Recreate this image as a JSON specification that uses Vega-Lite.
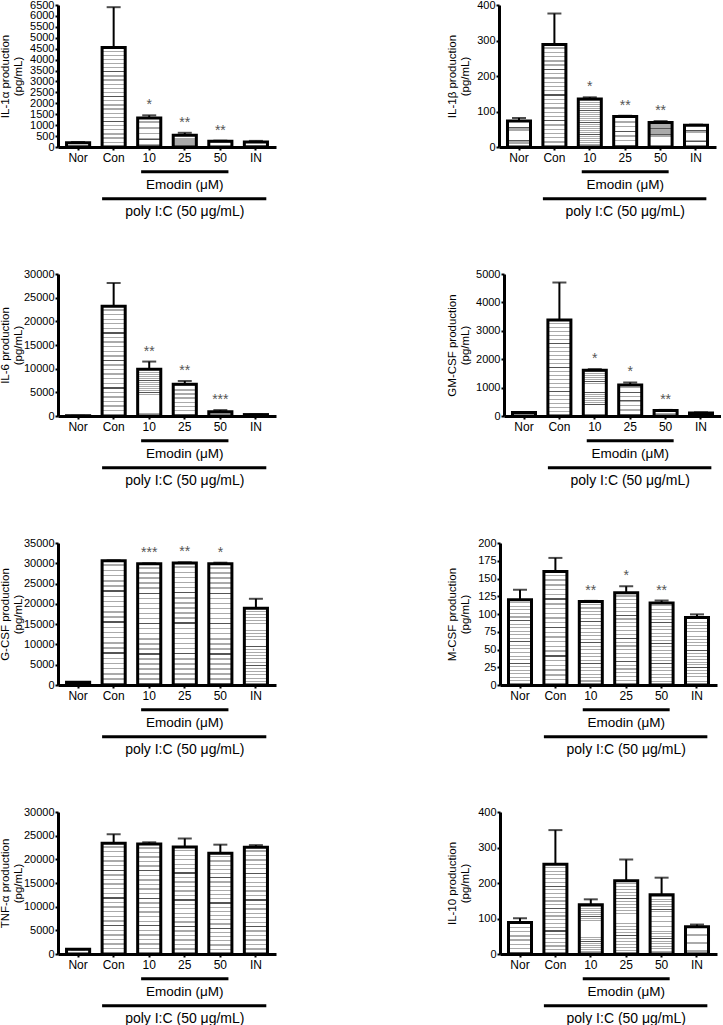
{
"$schema": "https://vega.github.io/schema/vega-lite/v6.json",
"padding": {"left": -2, "top": -1, "right": 0, "bottom": 0},
"background": "white",
"datasets": {
"bars": [
{"panel":"IL1a","group":"Nor","value":200,"err":230,"star":""},
{"panel":"IL1a","group":"Con","value":4550,"err":6400,"star":""},
{"panel":"IL1a","group":"10","value":1330,"err":1450,"star":"*"},
{"panel":"IL1a","group":"25","value":540,"err":650,"star":"**"},
{"panel":"IL1a","group":"50","value":260,"err":290,"star":"**"},
{"panel":"IL1a","group":"IN","value":230,"err":280,"star":""},
{"panel":"IL1b","group":"Nor","value":73,"err":82,"star":""},
{"panel":"IL1b","group":"Con","value":289,"err":376,"star":""},
{"panel":"IL1b","group":"10","value":135,"err":140,"star":"*"},
{"panel":"IL1b","group":"25","value":86,"err":88,"star":"**"},
{"panel":"IL1b","group":"50","value":69,"err":73,"star":"**"},
{"panel":"IL1b","group":"IN","value":61,"err":63,"star":""},
{"panel":"IL6","group":"Nor","value":40,"err":40,"star":""},
{"panel":"IL6","group":"Con","value":23200,"err":28100,"star":""},
{"panel":"IL6","group":"10","value":9900,"err":11500,"star":"**"},
{"panel":"IL6","group":"25","value":6700,"err":7400,"star":"**"},
{"panel":"IL6","group":"50","value":900,"err":1250,"star":"***"},
{"panel":"IL6","group":"IN","value":300,"err":300,"star":""},
{"panel":"GM","group":"Nor","value":120,"err":140,"star":""},
{"panel":"GM","group":"Con","value":3380,"err":4700,"star":""},
{"panel":"GM","group":"10","value":1615,"err":1650,"star":"*"},
{"panel":"GM","group":"25","value":1090,"err":1180,"star":"*"},
{"panel":"GM","group":"50","value":190,"err":215,"star":"**"},
{"panel":"GM","group":"IN","value":108,"err":130,"star":""},
{"panel":"G","group":"Nor","value":650,"err":700,"star":""},
{"panel":"G","group":"Con","value":30600,"err":30700,"star":""},
{"panel":"G","group":"10","value":29900,"err":29980,"star":"***"},
{"panel":"G","group":"25","value":30100,"err":30230,"star":"**"},
{"panel":"G","group":"50","value":29900,"err":30150,"star":"*"},
{"panel":"G","group":"IN","value":18900,"err":21250,"star":""},
{"panel":"M","group":"Nor","value":120,"err":134,"star":""},
{"panel":"M","group":"Con","value":160,"err":179,"star":""},
{"panel":"M","group":"10","value":117.5,"err":118.5,"star":"**"},
{"panel":"M","group":"25","value":130,"err":139,"star":"*"},
{"panel":"M","group":"50","value":115.5,"err":119,"star":"**"},
{"panel":"M","group":"IN","value":95,"err":99.5,"star":""},
{"panel":"TNF","group":"Nor","value":1000,"err":1000,"star":""},
{"panel":"TNF","group":"Con","value":23400,"err":25300,"star":""},
{"panel":"TNF","group":"10","value":23250,"err":23600,"star":""},
{"panel":"TNF","group":"25","value":22600,"err":24400,"star":""},
{"panel":"TNF","group":"50","value":21300,"err":23100,"star":""},
{"panel":"TNF","group":"IN","value":22550,"err":23000,"star":""},
{"panel":"IL10","group":"Nor","value":89,"err":101,"star":""},
{"panel":"IL10","group":"Con","value":253,"err":349,"star":""},
{"panel":"IL10","group":"10","value":139,"err":154,"star":""},
{"panel":"IL10","group":"25","value":206,"err":266,"star":""},
{"panel":"IL10","group":"50","value":167,"err":215,"star":""},
{"panel":"IL10","group":"IN","value":77,"err":83,"star":""}
],
"anno": [
{"level":"el","from":"10","to":"50","label":""},
{"level":"et","from":"25","to":"25","label":"Emodin (μM)"},
{"level":"pl","from":"Con","to":"IN","label":""},
{"level":"pt","from":"25","to":"25","label":"poly I:C (50 μg/mL)"}
]
},
"spacing": 48,
"vconcat": [
{"spacing": 169, "hconcat": [
{"spacing": 17, "bounds": "flush", "vconcat": [
{"width": 218, "height": 142, "data": {"name": "bars"}, "transform": [{"filter": "datum.panel === 'IL1a'"}],
 "encoding": {"x": {"field": "group", "type": "nominal", "scale": {"domain": ["Nor","Con","10","25","50","IN"]}, "title": null}},
 "layer": [
  {"mark": "bar", "encoding": {"y": {"field": "value", "type": "quantitative", "scale": {"domain": [0, 6500], "nice": false}, "axis": {"values": [0,500,1000,1500,2000,2500,3000,3500,4000,4500,5000,5500,6000,6500], "format": "d", "labelOverlap": false, "titleX": -48}, "title": ["IL-1α production", "(pg/mL)"]}}},
  {"mark": {"type": "rule", "strokeWidth": 2}, "encoding": {"y": {"field": "value", "type": "quantitative", "axis": {"values": [0,500,1000,1500,2000,2500,3000,3500,4000,4500,5000,5500,6000,6500], "format": "d", "labelOverlap": false, "titleX": -48}}, "y2": {"field": "err"}}},
  {"mark": {"type": "tick", "size": 14}, "encoding": {"y": {"field": "err", "type": "quantitative", "axis": {"values": [0,500,1000,1500,2000,2500,3000,3500,4000,4500,5000,5500,6000,6500], "format": "d", "labelOverlap": false, "titleX": -48}}}},
  {"transform": [{"filter": "datum.star !== ''"}], "mark": {"type": "text", "dy": -6, "baseline": "alphabetic", "fontSize": 14, "color": "#555"}, "encoding": {"y": {"field": "err", "type": "quantitative", "axis": {"values": [0,500,1000,1500,2000,2500,3000,3500,4000,4500,5000,5500,6000,6500], "format": "d", "labelOverlap": false, "titleX": -48}}, "text": {"field": "star"}}}
 ]},
{"width": 218, "height": 56, "data": {"name": "anno"},
 "encoding": {"y": {"field": "level", "type": "ordinal", "scale": {"domain": ["el","et","pl","pt"]}, "axis": null}},
 "layer": [
  {"transform": [{"filter": "datum.level === 'el'"}], "mark": {"type": "rule", "strokeWidth": 3}, "encoding": {"x": {"field": "from", "type": "nominal", "scale": {"domain": ["Nor","Con","10","25","50","IN"]}, "bandPosition": 0.15, "axis": null}, "x2": {"field": "to", "bandPosition": 0.85}}},
  {"transform": [{"filter": "datum.level === 'pl'"}], "mark": {"type": "rule", "strokeWidth": 3}, "encoding": {"x": {"field": "from", "type": "nominal", "scale": {"domain": ["Nor","Con","10","25","50","IN"]}, "bandPosition": 0, "axis": null}, "x2": {"field": "to", "bandPosition": 0.95}}},
  {"transform": [{"filter": "datum.level === 'et'"}], "mark": {"type": "text", "fontSize": 13.5}, "encoding": {"x": {"field": "from", "type": "nominal", "scale": {"domain": ["Nor","Con","10","25","50","IN"]}, "axis": null}, "text": {"field": "label"}}},
  {"transform": [{"filter": "datum.level === 'pt'"}], "mark": {"type": "text", "fontSize": 14}, "encoding": {"x": {"field": "from", "type": "nominal", "scale": {"domain": ["Nor","Con","10","25","50","IN"]}, "axis": null}, "text": {"field": "label"}}}
 ]}
]},
{"spacing": 17, "bounds": "flush", "vconcat": [
{"width": 217, "height": 142, "data": {"name": "bars"}, "transform": [{"filter": "datum.panel === 'IL1b'"}],
 "encoding": {"x": {"field": "group", "type": "nominal", "scale": {"domain": ["Nor","Con","10","25","50","IN"]}, "title": null}},
 "layer": [
  {"mark": "bar", "encoding": {"y": {"field": "value", "type": "quantitative", "scale": {"domain": [0, 400], "nice": false}, "axis": {"values": [0,100,200,300,400], "format": "d", "labelOverlap": false, "titleX": -42}, "title": ["IL-1β production", "(pg/mL)"]}}},
  {"mark": {"type": "rule", "strokeWidth": 2}, "encoding": {"y": {"field": "value", "type": "quantitative", "axis": {"values": [0,100,200,300,400], "format": "d", "labelOverlap": false, "titleX": -42}}, "y2": {"field": "err"}}},
  {"mark": {"type": "tick", "size": 14}, "encoding": {"y": {"field": "err", "type": "quantitative", "axis": {"values": [0,100,200,300,400], "format": "d", "labelOverlap": false, "titleX": -42}}}},
  {"transform": [{"filter": "datum.star !== ''"}], "mark": {"type": "text", "dy": -6, "baseline": "alphabetic", "fontSize": 14, "color": "#555"}, "encoding": {"y": {"field": "err", "type": "quantitative", "axis": {"values": [0,100,200,300,400], "format": "d", "labelOverlap": false, "titleX": -42}}, "text": {"field": "star"}}}
 ]},
{"width": 217, "height": 56, "data": {"name": "anno"},
 "encoding": {"y": {"field": "level", "type": "ordinal", "scale": {"domain": ["el","et","pl","pt"]}, "axis": null}},
 "layer": [
  {"transform": [{"filter": "datum.level === 'el'"}], "mark": {"type": "rule", "strokeWidth": 3}, "encoding": {"x": {"field": "from", "type": "nominal", "scale": {"domain": ["Nor","Con","10","25","50","IN"]}, "bandPosition": 0.15, "axis": null}, "x2": {"field": "to", "bandPosition": 0.85}}},
  {"transform": [{"filter": "datum.level === 'pl'"}], "mark": {"type": "rule", "strokeWidth": 3}, "encoding": {"x": {"field": "from", "type": "nominal", "scale": {"domain": ["Nor","Con","10","25","50","IN"]}, "bandPosition": 0, "axis": null}, "x2": {"field": "to", "bandPosition": 0.95}}},
  {"transform": [{"filter": "datum.level === 'et'"}], "mark": {"type": "text", "fontSize": 13.5}, "encoding": {"x": {"field": "from", "type": "nominal", "scale": {"domain": ["Nor","Con","10","25","50","IN"]}, "axis": null}, "text": {"field": "label"}}},
  {"transform": [{"filter": "datum.level === 'pt'"}], "mark": {"type": "text", "fontSize": 14}, "encoding": {"x": {"field": "from", "type": "nominal", "scale": {"domain": ["Nor","Con","10","25","50","IN"]}, "axis": null}, "text": {"field": "label"}}}
 ]}
]}
]},
{"spacing": 169, "hconcat": [
{"spacing": 17, "bounds": "flush", "vconcat": [
{"width": 218, "height": 142, "data": {"name": "bars"}, "transform": [{"filter": "datum.panel === 'IL6'"}],
 "encoding": {"x": {"field": "group", "type": "nominal", "scale": {"domain": ["Nor","Con","10","25","50","IN"]}, "title": null}},
 "layer": [
  {"mark": "bar", "encoding": {"y": {"field": "value", "type": "quantitative", "scale": {"domain": [0, 30000], "nice": false}, "axis": {"values": [0,5000,10000,15000,20000,25000,30000], "format": "d", "labelOverlap": false, "titleX": -48}, "title": ["IL-6 production", "(pg/mL)"]}}},
  {"mark": {"type": "rule", "strokeWidth": 2}, "encoding": {"y": {"field": "value", "type": "quantitative", "axis": {"values": [0,5000,10000,15000,20000,25000,30000], "format": "d", "labelOverlap": false, "titleX": -48}}, "y2": {"field": "err"}}},
  {"mark": {"type": "tick", "size": 14}, "encoding": {"y": {"field": "err", "type": "quantitative", "axis": {"values": [0,5000,10000,15000,20000,25000,30000], "format": "d", "labelOverlap": false, "titleX": -48}}}},
  {"transform": [{"filter": "datum.star !== ''"}], "mark": {"type": "text", "dy": -6, "baseline": "alphabetic", "fontSize": 14, "color": "#555"}, "encoding": {"y": {"field": "err", "type": "quantitative", "axis": {"values": [0,5000,10000,15000,20000,25000,30000], "format": "d", "labelOverlap": false, "titleX": -48}}, "text": {"field": "star"}}}
 ]},
{"width": 218, "height": 56, "data": {"name": "anno"},
 "encoding": {"y": {"field": "level", "type": "ordinal", "scale": {"domain": ["el","et","pl","pt"]}, "axis": null}},
 "layer": [
  {"transform": [{"filter": "datum.level === 'el'"}], "mark": {"type": "rule", "strokeWidth": 3}, "encoding": {"x": {"field": "from", "type": "nominal", "scale": {"domain": ["Nor","Con","10","25","50","IN"]}, "bandPosition": 0.15, "axis": null}, "x2": {"field": "to", "bandPosition": 0.85}}},
  {"transform": [{"filter": "datum.level === 'pl'"}], "mark": {"type": "rule", "strokeWidth": 3}, "encoding": {"x": {"field": "from", "type": "nominal", "scale": {"domain": ["Nor","Con","10","25","50","IN"]}, "bandPosition": 0, "axis": null}, "x2": {"field": "to", "bandPosition": 0.95}}},
  {"transform": [{"filter": "datum.level === 'et'"}], "mark": {"type": "text", "fontSize": 13.5}, "encoding": {"x": {"field": "from", "type": "nominal", "scale": {"domain": ["Nor","Con","10","25","50","IN"]}, "axis": null}, "text": {"field": "label"}}},
  {"transform": [{"filter": "datum.level === 'pt'"}], "mark": {"type": "text", "fontSize": 14}, "encoding": {"x": {"field": "from", "type": "nominal", "scale": {"domain": ["Nor","Con","10","25","50","IN"]}, "axis": null}, "text": {"field": "label"}}}
 ]}
]},
{"spacing": 17, "bounds": "flush", "vconcat": [
{"width": 217, "height": 142, "data": {"name": "bars"}, "transform": [{"filter": "datum.panel === 'GM'"}],
 "encoding": {"x": {"field": "group", "type": "nominal", "scale": {"domain": ["Nor","Con","10","25","50","IN"]}, "title": null}},
 "layer": [
  {"mark": "bar", "encoding": {"y": {"field": "value", "type": "quantitative", "scale": {"domain": [0, 5000], "nice": false}, "axis": {"values": [0,1000,2000,3000,4000,5000], "format": "d", "labelOverlap": false, "titleX": -47}, "title": ["GM-CSF production", "(pg/mL)"]}}},
  {"mark": {"type": "rule", "strokeWidth": 2}, "encoding": {"y": {"field": "value", "type": "quantitative", "axis": {"values": [0,1000,2000,3000,4000,5000], "format": "d", "labelOverlap": false, "titleX": -47}}, "y2": {"field": "err"}}},
  {"mark": {"type": "tick", "size": 14}, "encoding": {"y": {"field": "err", "type": "quantitative", "axis": {"values": [0,1000,2000,3000,4000,5000], "format": "d", "labelOverlap": false, "titleX": -47}}}},
  {"transform": [{"filter": "datum.star !== ''"}], "mark": {"type": "text", "dy": -6, "baseline": "alphabetic", "fontSize": 14, "color": "#555"}, "encoding": {"y": {"field": "err", "type": "quantitative", "axis": {"values": [0,1000,2000,3000,4000,5000], "format": "d", "labelOverlap": false, "titleX": -47}}, "text": {"field": "star"}}}
 ]},
{"width": 217, "height": 56, "data": {"name": "anno"},
 "encoding": {"y": {"field": "level", "type": "ordinal", "scale": {"domain": ["el","et","pl","pt"]}, "axis": null}},
 "layer": [
  {"transform": [{"filter": "datum.level === 'el'"}], "mark": {"type": "rule", "strokeWidth": 3}, "encoding": {"x": {"field": "from", "type": "nominal", "scale": {"domain": ["Nor","Con","10","25","50","IN"]}, "bandPosition": 0.15, "axis": null}, "x2": {"field": "to", "bandPosition": 0.85}}},
  {"transform": [{"filter": "datum.level === 'pl'"}], "mark": {"type": "rule", "strokeWidth": 3}, "encoding": {"x": {"field": "from", "type": "nominal", "scale": {"domain": ["Nor","Con","10","25","50","IN"]}, "bandPosition": 0, "axis": null}, "x2": {"field": "to", "bandPosition": 0.95}}},
  {"transform": [{"filter": "datum.level === 'et'"}], "mark": {"type": "text", "fontSize": 13.5}, "encoding": {"x": {"field": "from", "type": "nominal", "scale": {"domain": ["Nor","Con","10","25","50","IN"]}, "axis": null}, "text": {"field": "label"}}},
  {"transform": [{"filter": "datum.level === 'pt'"}], "mark": {"type": "text", "fontSize": 14}, "encoding": {"x": {"field": "from", "type": "nominal", "scale": {"domain": ["Nor","Con","10","25","50","IN"]}, "axis": null}, "text": {"field": "label"}}}
 ]}
]}
]},
{"spacing": 169, "hconcat": [
{"spacing": 17, "bounds": "flush", "vconcat": [
{"width": 218, "height": 142, "data": {"name": "bars"}, "transform": [{"filter": "datum.panel === 'G'"}],
 "encoding": {"x": {"field": "group", "type": "nominal", "scale": {"domain": ["Nor","Con","10","25","50","IN"]}, "title": null}},
 "layer": [
  {"mark": "bar", "encoding": {"y": {"field": "value", "type": "quantitative", "scale": {"domain": [0, 35000], "nice": false}, "axis": {"values": [0,5000,10000,15000,20000,25000,30000,35000], "format": "d", "labelOverlap": false, "titleX": -48}, "title": ["G-CSF production", "(pg/mL)"]}}},
  {"mark": {"type": "rule", "strokeWidth": 2}, "encoding": {"y": {"field": "value", "type": "quantitative", "axis": {"values": [0,5000,10000,15000,20000,25000,30000,35000], "format": "d", "labelOverlap": false, "titleX": -48}}, "y2": {"field": "err"}}},
  {"mark": {"type": "tick", "size": 14}, "encoding": {"y": {"field": "err", "type": "quantitative", "axis": {"values": [0,5000,10000,15000,20000,25000,30000,35000], "format": "d", "labelOverlap": false, "titleX": -48}}}},
  {"transform": [{"filter": "datum.star !== ''"}], "mark": {"type": "text", "dy": -6, "baseline": "alphabetic", "fontSize": 14, "color": "#555"}, "encoding": {"y": {"field": "err", "type": "quantitative", "axis": {"values": [0,5000,10000,15000,20000,25000,30000,35000], "format": "d", "labelOverlap": false, "titleX": -48}}, "text": {"field": "star"}}}
 ]},
{"width": 218, "height": 56, "data": {"name": "anno"},
 "encoding": {"y": {"field": "level", "type": "ordinal", "scale": {"domain": ["el","et","pl","pt"]}, "axis": null}},
 "layer": [
  {"transform": [{"filter": "datum.level === 'el'"}], "mark": {"type": "rule", "strokeWidth": 3}, "encoding": {"x": {"field": "from", "type": "nominal", "scale": {"domain": ["Nor","Con","10","25","50","IN"]}, "bandPosition": 0.15, "axis": null}, "x2": {"field": "to", "bandPosition": 0.85}}},
  {"transform": [{"filter": "datum.level === 'pl'"}], "mark": {"type": "rule", "strokeWidth": 3}, "encoding": {"x": {"field": "from", "type": "nominal", "scale": {"domain": ["Nor","Con","10","25","50","IN"]}, "bandPosition": 0, "axis": null}, "x2": {"field": "to", "bandPosition": 0.95}}},
  {"transform": [{"filter": "datum.level === 'et'"}], "mark": {"type": "text", "fontSize": 13.5}, "encoding": {"x": {"field": "from", "type": "nominal", "scale": {"domain": ["Nor","Con","10","25","50","IN"]}, "axis": null}, "text": {"field": "label"}}},
  {"transform": [{"filter": "datum.level === 'pt'"}], "mark": {"type": "text", "fontSize": 14}, "encoding": {"x": {"field": "from", "type": "nominal", "scale": {"domain": ["Nor","Con","10","25","50","IN"]}, "axis": null}, "text": {"field": "label"}}}
 ]}
]},
{"spacing": 17, "bounds": "flush", "vconcat": [
{"width": 217, "height": 142, "data": {"name": "bars"}, "transform": [{"filter": "datum.panel === 'M'"}],
 "encoding": {"x": {"field": "group", "type": "nominal", "scale": {"domain": ["Nor","Con","10","25","50","IN"]}, "title": null}},
 "layer": [
  {"mark": "bar", "encoding": {"y": {"field": "value", "type": "quantitative", "scale": {"domain": [0, 200], "nice": false}, "axis": {"values": [0,25,50,75,100,125,150,175,200], "format": "d", "labelOverlap": false, "titleX": -43}, "title": ["M-CSF production", "(pg/mL)"]}}},
  {"mark": {"type": "rule", "strokeWidth": 2}, "encoding": {"y": {"field": "value", "type": "quantitative", "axis": {"values": [0,25,50,75,100,125,150,175,200], "format": "d", "labelOverlap": false, "titleX": -43}}, "y2": {"field": "err"}}},
  {"mark": {"type": "tick", "size": 14}, "encoding": {"y": {"field": "err", "type": "quantitative", "axis": {"values": [0,25,50,75,100,125,150,175,200], "format": "d", "labelOverlap": false, "titleX": -43}}}},
  {"transform": [{"filter": "datum.star !== ''"}], "mark": {"type": "text", "dy": -6, "baseline": "alphabetic", "fontSize": 14, "color": "#555"}, "encoding": {"y": {"field": "err", "type": "quantitative", "axis": {"values": [0,25,50,75,100,125,150,175,200], "format": "d", "labelOverlap": false, "titleX": -43}}, "text": {"field": "star"}}}
 ]},
{"width": 217, "height": 56, "data": {"name": "anno"},
 "encoding": {"y": {"field": "level", "type": "ordinal", "scale": {"domain": ["el","et","pl","pt"]}, "axis": null}},
 "layer": [
  {"transform": [{"filter": "datum.level === 'el'"}], "mark": {"type": "rule", "strokeWidth": 3}, "encoding": {"x": {"field": "from", "type": "nominal", "scale": {"domain": ["Nor","Con","10","25","50","IN"]}, "bandPosition": 0.15, "axis": null}, "x2": {"field": "to", "bandPosition": 0.85}}},
  {"transform": [{"filter": "datum.level === 'pl'"}], "mark": {"type": "rule", "strokeWidth": 3}, "encoding": {"x": {"field": "from", "type": "nominal", "scale": {"domain": ["Nor","Con","10","25","50","IN"]}, "bandPosition": 0, "axis": null}, "x2": {"field": "to", "bandPosition": 0.95}}},
  {"transform": [{"filter": "datum.level === 'et'"}], "mark": {"type": "text", "fontSize": 13.5}, "encoding": {"x": {"field": "from", "type": "nominal", "scale": {"domain": ["Nor","Con","10","25","50","IN"]}, "axis": null}, "text": {"field": "label"}}},
  {"transform": [{"filter": "datum.level === 'pt'"}], "mark": {"type": "text", "fontSize": 14}, "encoding": {"x": {"field": "from", "type": "nominal", "scale": {"domain": ["Nor","Con","10","25","50","IN"]}, "axis": null}, "text": {"field": "label"}}}
 ]}
]}
]},
{"spacing": 169, "hconcat": [
{"spacing": 17, "bounds": "flush", "vconcat": [
{"width": 218, "height": 142, "data": {"name": "bars"}, "transform": [{"filter": "datum.panel === 'TNF'"}],
 "encoding": {"x": {"field": "group", "type": "nominal", "scale": {"domain": ["Nor","Con","10","25","50","IN"]}, "title": null}},
 "layer": [
  {"mark": "bar", "encoding": {"y": {"field": "value", "type": "quantitative", "scale": {"domain": [0, 30000], "nice": false}, "axis": {"values": [0,5000,10000,15000,20000,25000,30000], "format": "d", "labelOverlap": false, "titleX": -48}, "title": ["TNF-α production", "(pg/mL)"]}}},
  {"mark": {"type": "rule", "strokeWidth": 2}, "encoding": {"y": {"field": "value", "type": "quantitative", "axis": {"values": [0,5000,10000,15000,20000,25000,30000], "format": "d", "labelOverlap": false, "titleX": -48}}, "y2": {"field": "err"}}},
  {"mark": {"type": "tick", "size": 14}, "encoding": {"y": {"field": "err", "type": "quantitative", "axis": {"values": [0,5000,10000,15000,20000,25000,30000], "format": "d", "labelOverlap": false, "titleX": -48}}}}
 ]},
{"width": 218, "height": 56, "data": {"name": "anno"},
 "encoding": {"y": {"field": "level", "type": "ordinal", "scale": {"domain": ["el","et","pl","pt"]}, "axis": null}},
 "layer": [
  {"transform": [{"filter": "datum.level === 'el'"}], "mark": {"type": "rule", "strokeWidth": 3}, "encoding": {"x": {"field": "from", "type": "nominal", "scale": {"domain": ["Nor","Con","10","25","50","IN"]}, "bandPosition": 0.15, "axis": null}, "x2": {"field": "to", "bandPosition": 0.85}}},
  {"transform": [{"filter": "datum.level === 'pl'"}], "mark": {"type": "rule", "strokeWidth": 3}, "encoding": {"x": {"field": "from", "type": "nominal", "scale": {"domain": ["Nor","Con","10","25","50","IN"]}, "bandPosition": 0, "axis": null}, "x2": {"field": "to", "bandPosition": 0.95}}},
  {"transform": [{"filter": "datum.level === 'et'"}], "mark": {"type": "text", "fontSize": 13.5}, "encoding": {"x": {"field": "from", "type": "nominal", "scale": {"domain": ["Nor","Con","10","25","50","IN"]}, "axis": null}, "text": {"field": "label"}}},
  {"transform": [{"filter": "datum.level === 'pt'"}], "mark": {"type": "text", "fontSize": 14}, "encoding": {"x": {"field": "from", "type": "nominal", "scale": {"domain": ["Nor","Con","10","25","50","IN"]}, "axis": null}, "text": {"field": "label"}}}
 ]}
]},
{"spacing": 17, "bounds": "flush", "vconcat": [
{"width": 217, "height": 142, "data": {"name": "bars"}, "transform": [{"filter": "datum.panel === 'IL10'"}],
 "encoding": {"x": {"field": "group", "type": "nominal", "scale": {"domain": ["Nor","Con","10","25","50","IN"]}, "title": null}},
 "layer": [
  {"mark": "bar", "encoding": {"y": {"field": "value", "type": "quantitative", "scale": {"domain": [0, 400], "nice": false}, "axis": {"values": [0,100,200,300,400], "format": "d", "labelOverlap": false, "titleX": -43}, "title": ["IL-10 production", "(pg/mL)"]}}},
  {"mark": {"type": "rule", "strokeWidth": 2}, "encoding": {"y": {"field": "value", "type": "quantitative", "axis": {"values": [0,100,200,300,400], "format": "d", "labelOverlap": false, "titleX": -43}}, "y2": {"field": "err"}}},
  {"mark": {"type": "tick", "size": 14}, "encoding": {"y": {"field": "err", "type": "quantitative", "axis": {"values": [0,100,200,300,400], "format": "d", "labelOverlap": false, "titleX": -43}}}}
 ]},
{"width": 217, "height": 56, "data": {"name": "anno"},
 "encoding": {"y": {"field": "level", "type": "ordinal", "scale": {"domain": ["el","et","pl","pt"]}, "axis": null}},
 "layer": [
  {"transform": [{"filter": "datum.level === 'el'"}], "mark": {"type": "rule", "strokeWidth": 3}, "encoding": {"x": {"field": "from", "type": "nominal", "scale": {"domain": ["Nor","Con","10","25","50","IN"]}, "bandPosition": 0.15, "axis": null}, "x2": {"field": "to", "bandPosition": 0.85}}},
  {"transform": [{"filter": "datum.level === 'pl'"}], "mark": {"type": "rule", "strokeWidth": 3}, "encoding": {"x": {"field": "from", "type": "nominal", "scale": {"domain": ["Nor","Con","10","25","50","IN"]}, "bandPosition": 0, "axis": null}, "x2": {"field": "to", "bandPosition": 0.95}}},
  {"transform": [{"filter": "datum.level === 'et'"}], "mark": {"type": "text", "fontSize": 13.5}, "encoding": {"x": {"field": "from", "type": "nominal", "scale": {"domain": ["Nor","Con","10","25","50","IN"]}, "axis": null}, "text": {"field": "label"}}},
  {"transform": [{"filter": "datum.level === 'pt'"}], "mark": {"type": "text", "fontSize": 14}, "encoding": {"x": {"field": "from", "type": "nominal", "scale": {"domain": ["Nor","Con","10","25","50","IN"]}, "axis": null}, "text": {"field": "label"}}}
 ]}
]}
]}
],
"config": {
 "view": {"stroke": null},
 "font": "Liberation Sans",
 "scale": {"bandPaddingInner": 0.35, "bandPaddingOuter": 0.24},
 "bar": {"stroke": "black", "strokeWidth": 3, "fill": {"gradient": "linear", "x1": 0, "y1": 0, "x2": 0, "y2": 1, "stops": [
  {"offset":0,"color":"#fff"},
  {"offset":0.0292,"color":"#fff"},{"offset":0.0292,"color":"#aaa"},{"offset":0.0417,"color":"#aaa"},{"offset":0.0417,"color":"#fff"},
  {"offset":0.0708,"color":"#fff"},{"offset":0.0708,"color":"#aaa"},{"offset":0.0833,"color":"#aaa"},{"offset":0.0833,"color":"#fff"},
  {"offset":0.1125,"color":"#fff"},{"offset":0.1125,"color":"#aaa"},{"offset":0.125,"color":"#aaa"},{"offset":0.125,"color":"#fff"},
  {"offset":0.1542,"color":"#fff"},{"offset":0.1542,"color":"#aaa"},{"offset":0.1667,"color":"#aaa"},{"offset":0.1667,"color":"#fff"},
  {"offset":0.1958,"color":"#fff"},{"offset":0.1958,"color":"#aaa"},{"offset":0.2083,"color":"#aaa"},{"offset":0.2083,"color":"#fff"},
  {"offset":0.2375,"color":"#fff"},{"offset":0.2375,"color":"#555"},{"offset":0.25,"color":"#555"},{"offset":0.25,"color":"#fff"},
  {"offset":0.2792,"color":"#fff"},{"offset":0.2792,"color":"#aaa"},{"offset":0.2917,"color":"#aaa"},{"offset":0.2917,"color":"#fff"},
  {"offset":0.3208,"color":"#fff"},{"offset":0.3208,"color":"#aaa"},{"offset":0.3333,"color":"#aaa"},{"offset":0.3333,"color":"#fff"},
  {"offset":0.3625,"color":"#fff"},{"offset":0.3625,"color":"#aaa"},{"offset":0.375,"color":"#aaa"},{"offset":0.375,"color":"#fff"},
  {"offset":0.4042,"color":"#fff"},{"offset":0.4042,"color":"#aaa"},{"offset":0.4167,"color":"#aaa"},{"offset":0.4167,"color":"#fff"},
  {"offset":0.4458,"color":"#fff"},{"offset":0.4458,"color":"#aaa"},{"offset":0.4583,"color":"#aaa"},{"offset":0.4583,"color":"#fff"},
  {"offset":0.4875,"color":"#fff"},{"offset":0.4875,"color":"#555"},{"offset":0.5,"color":"#555"},{"offset":0.5,"color":"#fff"},
  {"offset":0.5292,"color":"#fff"},{"offset":0.5292,"color":"#aaa"},{"offset":0.5417,"color":"#aaa"},{"offset":0.5417,"color":"#fff"},
  {"offset":0.5708,"color":"#fff"},{"offset":0.5708,"color":"#aaa"},{"offset":0.5833,"color":"#aaa"},{"offset":0.5833,"color":"#fff"},
  {"offset":0.6125,"color":"#fff"},{"offset":0.6125,"color":"#aaa"},{"offset":0.625,"color":"#aaa"},{"offset":0.625,"color":"#fff"},
  {"offset":0.6542,"color":"#fff"},{"offset":0.6542,"color":"#aaa"},{"offset":0.6667,"color":"#aaa"},{"offset":0.6667,"color":"#fff"},
  {"offset":0.6958,"color":"#fff"},{"offset":0.6958,"color":"#aaa"},{"offset":0.7083,"color":"#aaa"},{"offset":0.7083,"color":"#fff"},
  {"offset":0.7375,"color":"#fff"},{"offset":0.7375,"color":"#555"},{"offset":0.75,"color":"#555"},{"offset":0.75,"color":"#fff"},
  {"offset":0.7792,"color":"#fff"},{"offset":0.7792,"color":"#aaa"},{"offset":0.7917,"color":"#aaa"},{"offset":0.7917,"color":"#fff"},
  {"offset":0.8208,"color":"#fff"},{"offset":0.8208,"color":"#aaa"},{"offset":0.8333,"color":"#aaa"},{"offset":0.8333,"color":"#fff"},
  {"offset":0.8625,"color":"#fff"},{"offset":0.8625,"color":"#aaa"},{"offset":0.875,"color":"#aaa"},{"offset":0.875,"color":"#fff"},
  {"offset":0.9042,"color":"#fff"},{"offset":0.9042,"color":"#aaa"},{"offset":0.9167,"color":"#aaa"},{"offset":0.9167,"color":"#fff"},
  {"offset":0.9458,"color":"#fff"},{"offset":0.9458,"color":"#aaa"},{"offset":0.9583,"color":"#aaa"},{"offset":0.9583,"color":"#fff"},
  {"offset":0.9875,"color":"#fff"},{"offset":0.9875,"color":"#aaa"},{"offset":1,"color":"#aaa"}
 ]}},
 "rule": {"color": "black"},
 "tick": {"color": "black", "thickness": 2},
 "text": {"color": "black", "font": "Liberation Sans"},
 "axis": {"domainColor": "black", "tickColor": "black", "labelColor": "black", "titleColor": "black", "labelFont": "Liberation Sans", "titleFont": "Liberation Sans", "grid": false, "titleFontWeight": "normal"},
 "axisX": {"domainWidth": 3, "tickSize": 3, "tickWidth": 2, "labelFontSize": 12, "labelAngle": 0, "labelPadding": 2},
 "axisY": {"domainWidth": 3, "tickWidth": 2, "tickSize": 3, "labelFontSize": 11, "labelPadding": 1, "titleFontSize": 11.5, "titleLineHeight": 13}
}
}
